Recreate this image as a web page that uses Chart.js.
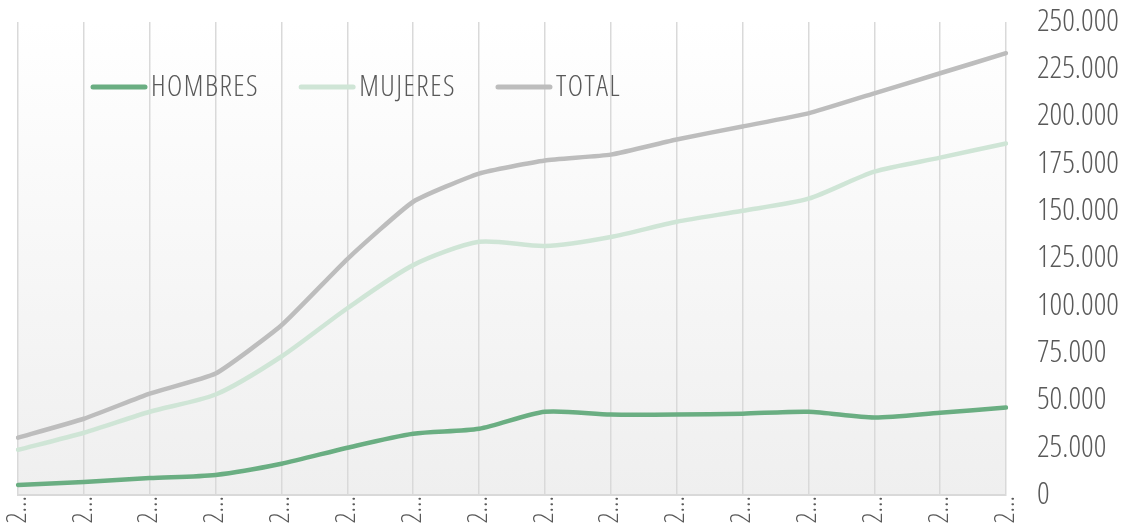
<!DOCTYPE html>
<html>
<head>
<meta charset="utf-8">
<script src="https://cdn.jsdelivr.net/npm/chart.js@4/dist/chart.umd.min.js"></script>
<style>
  html, body { margin: 0; padding: 0; background: #fff; }
  #wrap { width: 1128px; height: 530px; position: relative; }
</style>
</head>
<body>
<div id="wrap"><canvas id="c"></canvas></div>
<script>
// years on the x axis (shown truncated as "2…" in the original)
const years = ['2005', '2006', '2007', '2008', '2009', '2010', '2011', '2012',
  '2013', '2014', '2015', '2016', '2017', '2018', '2019', '2020'];

const hombres = [5300, 6900, 9000, 10600, 16500, 25000, 32400, 35000,
  44000, 42500, 42500, 43000, 44000, 41000, 43500, 46200];
const mujeres = [23900, 32900, 44000, 53100, 73200, 98700, 121500, 133800,
  131600, 136400, 144400, 150200, 156600, 170900, 178300, 185800];
const total = [30300, 40300, 53600, 64200, 89700, 124700, 155000, 169900,
  176800, 179900, 187900, 194800, 201700, 212300, 222900, 233500];

const yTicks = [0, 25000, 50000, 75000, 100000, 125000, 150000, 175000, 200000, 225000, 250000];

const FONT = '"Open Sans", Lato, sans-serif';
const WEIGHT = '300 condensed';
const TEXT = '#595959';

// soft vertical gradient behind the plot
const bgPlugin = {
  id: 'bg',
  beforeDraw(chart) {
    const { ctx, chartArea } = chart;
    const g = ctx.createLinearGradient(0, chartArea.top, 0, chartArea.bottom);
    g.addColorStop(0, '#ffffff');
    g.addColorStop(1, '#efefef');
    ctx.save();
    ctx.fillStyle = g;
    ctx.fillRect(chartArea.left, chartArea.top, chartArea.right - chartArea.left, chartArea.bottom - chartArea.top);
    ctx.restore();
  }
};

// legend drawn inside the plot, top-left
const legendPlugin = {
  id: 'innerLegend',
  afterDraw(chart) {
    const { ctx } = chart;
    ctx.save();
    ctx.font = WEIGHT + ' 29px ' + FONT;
    ctx.letterSpacing = '1.5px';
    ctx.textBaseline = 'middle';
    let x = 91;
    const y = 87;
    chart.data.datasets.forEach((ds) => {
      ctx.strokeStyle = ds.borderColor;
      ctx.lineWidth = 5;
      ctx.lineCap = 'round';
      ctx.beginPath();
      ctx.moveTo(x + 2, y);
      ctx.lineTo(x + 54, y);
      ctx.stroke();
      ctx.fillStyle = TEXT;
      ctx.fillText(ds.label, x + 60, y + 1);
      x += 60 + ctx.measureText(ds.label).width + 40;
    });
    ctx.restore();
  }
};

new Chart(document.getElementById('c'), {
  type: 'line',
  data: {
    labels: years,
    datasets: [
      { label: 'HOMBRES', data: hombres, borderColor: '#6aae82', borderWidth: 4.5, tension: 0.25 },
      { label: 'MUJERES', data: mujeres, borderColor: '#cfe5d6', borderWidth: 4.5, tension: 0.25 },
      { label: 'TOTAL', data: total, borderColor: '#bdbdbd', borderWidth: 4.5, tension: 0.15 }
    ]
  },
  options: {
    responsive: true,
    maintainAspectRatio: false,
    animation: false,
    layout: { padding: { top: 22, left: 18, right: 10, bottom: 0 } },
    elements: { point: { radius: 0 }, line: { borderCapStyle: 'round' } },
    plugins: { legend: { display: false }, tooltip: { enabled: false } },
    scales: {
      x: {
        offset: false,
        grid: { color: '#d9d9d9', lineWidth: 1.5, drawTicks: false },
        border: { color: '#d9d9d9', width: 2 },
        ticks: {
          color: TEXT,
          font: { family: FONT, size: 27, weight: WEIGHT },
          minRotation: 90,
          maxRotation: 90,
          autoSkip: false,
          padding: 1,
          callback: function (v, i) { return years[i].charAt(0) + '…'; }
        },
        afterFit(scale) {
          scale.height = 35;
          scale.paddingLeft = 0;
          scale.paddingRight = 0;
        }
      },
      y: {
        position: 'right',
        min: 0,
        max: 250000,
        afterBuildTicks(axis) { axis.ticks = yTicks.map(v => ({ value: v })); },
        grid: { display: false, drawTicks: false },
        border: { display: false },
        ticks: {
          color: TEXT,
          padding: 31,
          font: { family: FONT, size: 31, weight: WEIGHT },
          callback: v => v.toLocaleString('de-DE')
        },
        afterFit(scale) {
          scale.width = 112;
          scale.paddingTop = 0;
          scale.paddingBottom = 0;
        }
      }
    }
  },
  plugins: [bgPlugin, legendPlugin]
});
</script>
</body>
</html>
